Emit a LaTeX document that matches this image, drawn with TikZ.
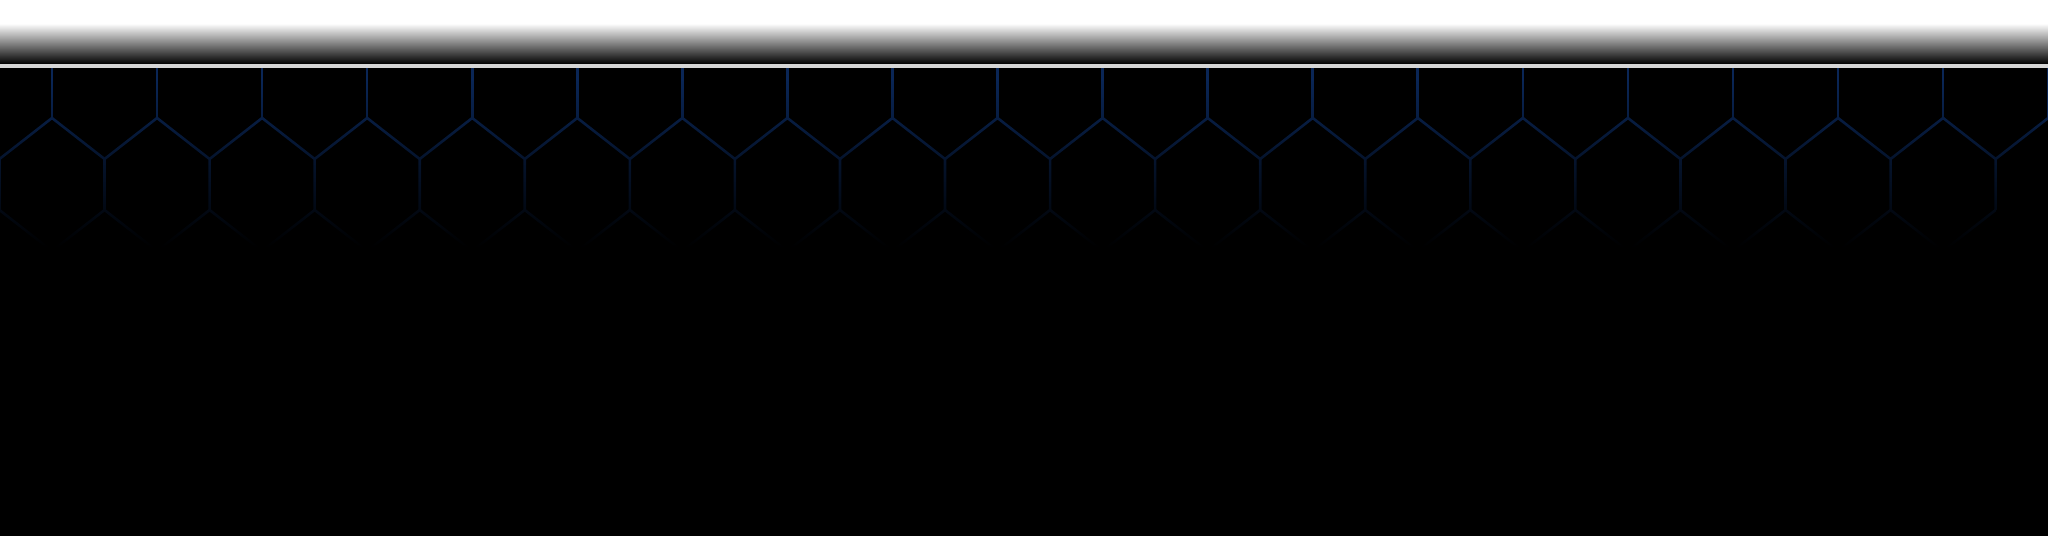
\documentclass[tikz,border=0pt]{standalone}
\usetikzlibrary{fadings}
\definecolor{hexblue}{RGB}{10,38,86}
\definecolor{rulegray}{RGB}{214,214,214}
\tikzfading[name=hexfade, top color=transparent!100, bottom color=transparent!0]
\begin{document}
\begin{tikzpicture}[x=1pt,y=-1pt,
  hexline/.style={draw=hexblue, line width=2.6pt, line join=miter, line cap=butt}]
\useasboundingbox (0,0) rectangle (2048,536);
% background
\fill[black] (0,0) rectangle (2048,536);
\fill[white] (0,0) rectangle (2048,23.5);
\shade[top color=white, bottom color=black] (0,23.5) rectangle (2048,64);
\fill[rulegray] (0,64) rectangle (2048,68);
% hexagon pattern
\begin{scope}
  \clip (0,68) rectangle (2048,536);
  \foreach \k in {-1,...,19}{
    \pgfmathsetmacro\X{52+105.06*\k}
    \pgfmathsetmacro\R{\X+52.53}
    \pgfmathsetmacro\L{\X-52.53}
    \pgfmathsetmacro\RR{\X+105.06}
    \draw[hexline] (\X,66) -- (\X,118);
    \draw[hexline] (\L,159) -- (\X,118) -- (\R,159) -- (\R,210);
    \draw[hexline] (\R,210) -- (\X,251);
    \ifnum\k<18
      \draw[hexline] (\R,210) -- (\RR,251);
    \fi
  }
  \fill[black, path fading=hexfade] (0,80) rectangle (2048,248);
  \fill[black] (0,247.5) rectangle (2048,536);
\end{scope}
\end{tikzpicture}
\end{document}
